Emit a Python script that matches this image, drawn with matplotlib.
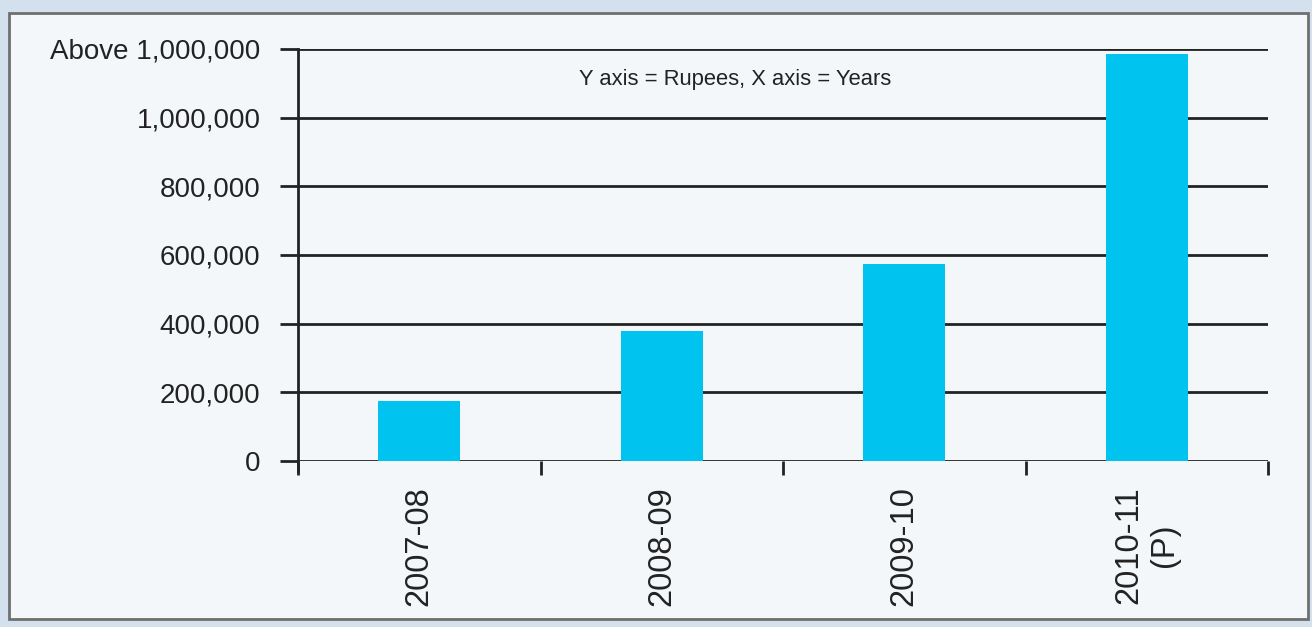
import numpy as np
import matplotlib
matplotlib.use("Agg")
import matplotlib.pyplot as plt
from matplotlib.patches import Rectangle

# values (rupees)
years = ["2007-08", "2008-09", "2009-10", "2010-11\n(P)"]
rupees = [175000, 380000, 575000, 1185000]
ytick_vals = [0, 200000, 400000, 600000, 800000, 1000000, 1200000]
ytick_labels = ["0", "200,000", "400,000", "600,000", "800,000", "1,000,000", "Above 1,000,000"]
note = "Y axis = Rupees, X axis = Years"

plt.rcParams["font.family"] = ["Liberation Sans", "DejaVu Sans"]
ink = "#222222"

fig = plt.figure(figsize=(13.12, 6.27), dpi=100)
fig.patch.set_facecolor("#d3e1ef")
# inner panel of the scanned page
fig.add_artist(Rectangle((9/1312, 1-619/627), 1299/1312, 606/627, transform=fig.transFigure,
                         facecolor="#f4f7fa", edgecolor="#6f6f6f", lw=2, zorder=0))

ax = fig.add_axes([298/1312, 1-461/627, 970/1312, 412/627])
ax.set_facecolor("none")
x = np.arange(len(years))
ax.bar(x, rupees, width=0.34, color="#00c3ef", zorder=3)

ax.set_xlim(-0.5, len(years)-0.5)
ax.set_ylim(0, 1200000)
for y in ytick_vals:
    ax.axhline(y, color=ink, lw=2, zorder=1)

ax.set_yticks(ytick_vals)
ax.set_yticklabels(ytick_labels, fontsize=20, color=ink)
ax.tick_params(axis="y", length=13, width=2, color=ink, pad=14)

ax.set_xticks(x)
ax.set_xticklabels(years, rotation=90, fontsize=23.5, color=ink, va="top", ha="center",
                   multialignment="center")
ax.tick_params(axis="x", length=0, pad=18)
ax.set_xticks(np.arange(len(years)+1)-0.5, minor=True)
ax.tick_params(axis="x", which="minor", length=10, width=2, color=ink)

for s in ["top", "right", "bottom"]:
    ax.spines[s].set_visible(False)
ax.spines["left"].set_linewidth(2)
ax.spines["left"].set_color(ink)
ax.spines["left"].set_bounds(-30000, 1200000)

ax.text(0.4505, 0.925, note, transform=ax.transAxes, fontsize=15.8, color=ink,
        ha="center", va="center")

fig.savefig("out.png", dpi=100)
